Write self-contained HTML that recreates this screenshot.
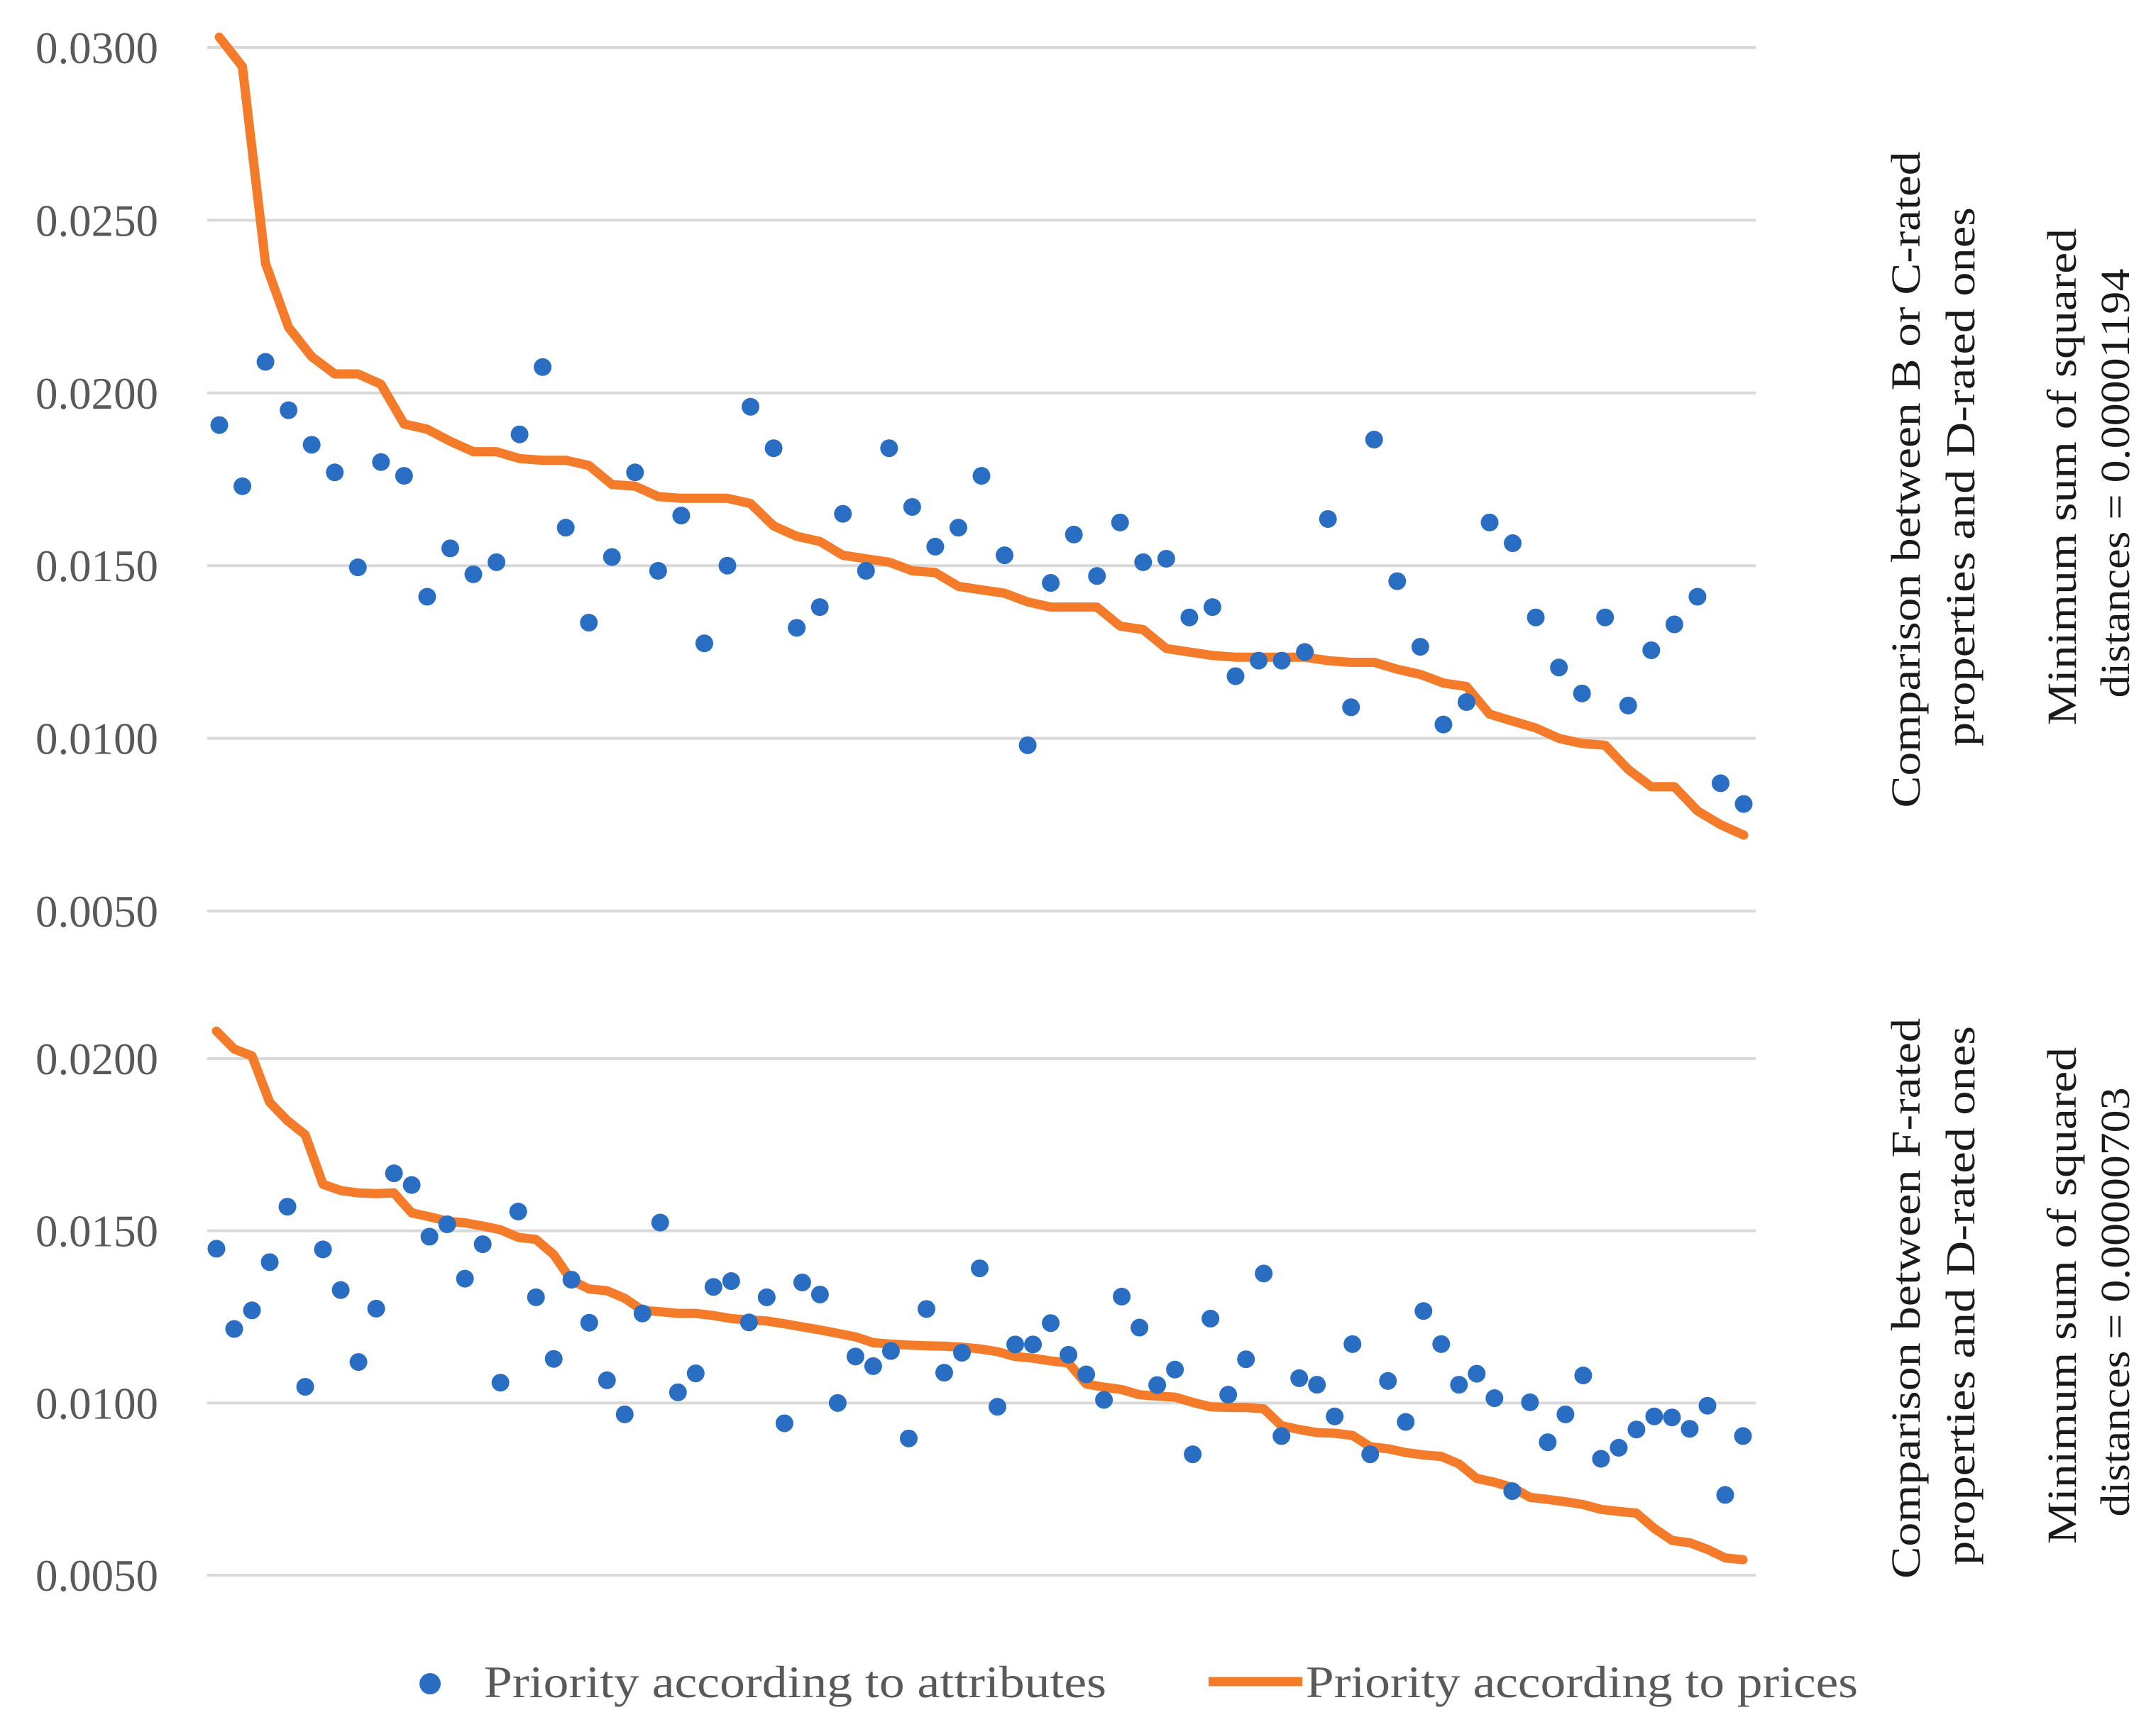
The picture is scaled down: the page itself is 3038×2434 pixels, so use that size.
<!DOCTYPE html>
<html><head><meta charset="utf-8">
<style>
html,body{margin:0;padding:0;background:#fff;}
svg{display:block;}
text{font-family:"Liberation Serif",serif;}
</style></head>
<body>
<svg id="chart" width="3038" height="2434" viewBox="0 0 3038 2434" xmlns="http://www.w3.org/2000/svg">
<g id="top-panel"></g>
<g id="bottom-panel"></g>
<g fill="#1a1a1a" font-size="58">
  <text transform="translate(2705,676) rotate(-90)" text-anchor="middle" textLength="925" lengthAdjust="spacingAndGlyphs">Comparison between B or C-rated</text>
  <text transform="translate(2782,672) rotate(-90)" text-anchor="middle" textLength="760" lengthAdjust="spacingAndGlyphs">properties and D-rated ones</text>
  <text transform="translate(2925,672) rotate(-90)" text-anchor="middle" textLength="700" lengthAdjust="spacingAndGlyphs">Minimum sum of squared</text>
  <text transform="translate(3000,681) rotate(-90)" text-anchor="middle" textLength="605" lengthAdjust="spacingAndGlyphs">distances = 0.00001194</text>
</g>
<g fill="#1a1a1a" font-size="58">
  <text transform="translate(2705,1830) rotate(-90)" text-anchor="middle" textLength="790" lengthAdjust="spacingAndGlyphs">Comparison between F-rated</text>
  <text transform="translate(2782,1826) rotate(-90)" text-anchor="middle" textLength="760" lengthAdjust="spacingAndGlyphs">properties and D-rated ones</text>
  <text transform="translate(2925,1826) rotate(-90)" text-anchor="middle" textLength="700" lengthAdjust="spacingAndGlyphs">Minimum sum of squared</text>
  <text transform="translate(3000,1835) rotate(-90)" text-anchor="middle" textLength="605" lengthAdjust="spacingAndGlyphs">distances = 0.00000703</text>
</g>
<g fill="#595959" font-size="64">
  <circle cx="606" cy="2373" r="15" fill="#2a6ec4"/>
  <text x="682" y="2392" textLength="877" lengthAdjust="spacingAndGlyphs">Priority according to attributes</text>
  <line x1="1703" y1="2370" x2="1835" y2="2370" stroke="#f47b2a" stroke-width="13"/>
  <text x="1840" y="2392" textLength="778" lengthAdjust="spacingAndGlyphs">Priority according to prices</text>
</g>
</svg>
<script>
// ---- top chart data (values in thousandths) ----
const topTicks = [0.0300, 0.0250, 0.0200, 0.0150, 0.0100, 0.0050];
const topAttributes = [19.07,17.3,20.9,19.5,18.5,17.7,14.95,18.0,17.6,14.1,15.5,14.75,15.1,18.8,20.75,16.1,13.35,15.25,17.7,14.85,16.45,12.75,15.0,19.6,18.4,13.2,13.8,16.5,14.85,18.4,16.7,15.55,16.1,17.6,15.3,9.8,14.5,15.9,14.7,16.25,15.1,15.2,13.5,13.8,11.8,12.25,12.25,12.5,16.35,10.9,18.65,14.55,12.65,10.4,11.05,16.25,15.65,13.5,12.05,11.3,13.5,10.95,12.55,13.3,14.1,8.7,8.1];
const topPrices = [30.3,29.45,23.75,21.9,21.05,20.55,20.55,20.25,19.1,18.95,18.6,18.3,18.3,18.1,18.05,18.05,17.9,17.35,17.3,17.0,16.95,16.95,16.95,16.8,16.15,15.85,15.7,15.3,15.2,15.1,14.85,14.8,14.4,14.3,14.2,13.95,13.8,13.8,13.8,13.25,13.15,12.6,12.5,12.4,12.35,12.35,12.35,12.35,12.25,12.2,12.2,12.0,11.85,11.6,11.5,10.7,10.5,10.3,10.0,9.85,9.8,9.1,8.6,8.6,7.9,7.5,7.2];
// ---- bottom chart data ----
const bottomTicks = [0.0200, 0.0150, 0.0100, 0.0050];
const bottomAttributes = [14.48,12.15,12.69,14.09,15.7,10.47,14.46,13.28,11.19,12.74,16.67,16.33,14.83,15.19,13.61,14.61,10.59,15.56,13.07,11.28,13.58,12.33,10.66,9.67,12.6,15.24,10.31,10.86,13.37,13.54,12.34,13.07,9.41,13.5,13.15,10.0,11.35,11.07,11.51,8.97,12.73,10.88,11.46,13.91,9.89,11.7,11.7,12.32,11.4,10.83,10.09,13.09,12.19,10.52,10.97,8.51,12.45,10.24,11.27,13.76,9.04,10.72,10.53,9.61,11.71,8.51,10.64,9.45,12.67,11.71,10.53,10.85,10.14,7.44,10.02,8.86,9.67,10.8,8.38,8.7,9.23,9.61,9.58,9.25,9.92,7.33,9.04];
const bottomPrices = [20.8,20.28,20.08,18.73,18.2,17.79,16.35,16.17,16.1,16.08,16.1,15.52,15.41,15.28,15.23,15.14,15.03,14.81,14.75,14.31,13.56,13.31,13.26,13.04,12.69,12.65,12.6,12.6,12.54,12.45,12.41,12.38,12.3,12.21,12.12,12.02,11.92,11.75,11.71,11.68,11.66,11.65,11.62,11.57,11.49,11.35,11.3,11.22,11.16,10.55,10.46,10.39,10.24,10.2,10.17,10.02,9.89,9.87,9.87,9.83,9.34,9.23,9.14,9.12,9.06,8.73,8.67,8.56,8.49,8.45,8.23,7.81,7.7,7.55,7.26,7.2,7.13,7.05,6.91,6.85,6.8,6.36,6.01,5.94,5.75,5.5,5.45];

const NS = 'http://www.w3.org/2000/svg';
function mk(tag, attrs, parent) {
  const el = document.createElementNS(NS, tag);
  for (const k in attrs) el.setAttribute(k, attrs[k]);
  parent.appendChild(el);
  return el;
}
function drawPanel(g, ticks, attrs, prices, cfg) {
  const yScale = v => cfg.yTop + (ticks[0] * 1000 - v) / (ticks[0] * 1000 - ticks[ticks.length - 1] * 1000) * (cfg.yBot - cfg.yTop);
  const n = attrs.length;
  const xScale = i => cfg.x0 + i * (cfg.x1 - cfg.x0) / (n - 1);
  ticks.forEach(t => {
    const y = yScale(t * 1000);
    const gl = mk('line', {x1: 292, x2: 2474, y1: y, y2: y, stroke: '#d9d9d9', 'stroke-width': 4}, g);
    
    
    const tl = mk('text', {x: 223, y: y + 22, 'text-anchor': 'end', 'font-size': 64, fill: '#595959', textLength: 173, lengthAdjust: 'spacingAndGlyphs'}, g);
    tl.textContent = t.toFixed(4);
    
    
  });
  const pts = prices.map((v, i) => xScale(i).toFixed(1) + ',' + yScale(v).toFixed(1)).join(' ');
  const pl = mk('polyline', {points: pts, fill: 'none', stroke: '#f47b2a', 'stroke-width': 13, 'stroke-linejoin': 'round', 'stroke-linecap': 'round'}, g);
  
  
  attrs.forEach((v, i) => {
    const c = mk('circle', {cx: xScale(i), cy: yScale(v), r: 12.5, fill: '#2a6ec4'}, g);
    
    
  });
}
drawPanel(document.getElementById('top-panel'), topTicks, topAttributes, topPrices, {yTop: 67, yBot: 1284, x0: 309, x1: 2457});
drawPanel(document.getElementById('bottom-panel'), bottomTicks, bottomAttributes, bottomPrices, {yTop: 1492, yBot: 2220, x0: 305, x1: 2456});
</script>
</body></html>
